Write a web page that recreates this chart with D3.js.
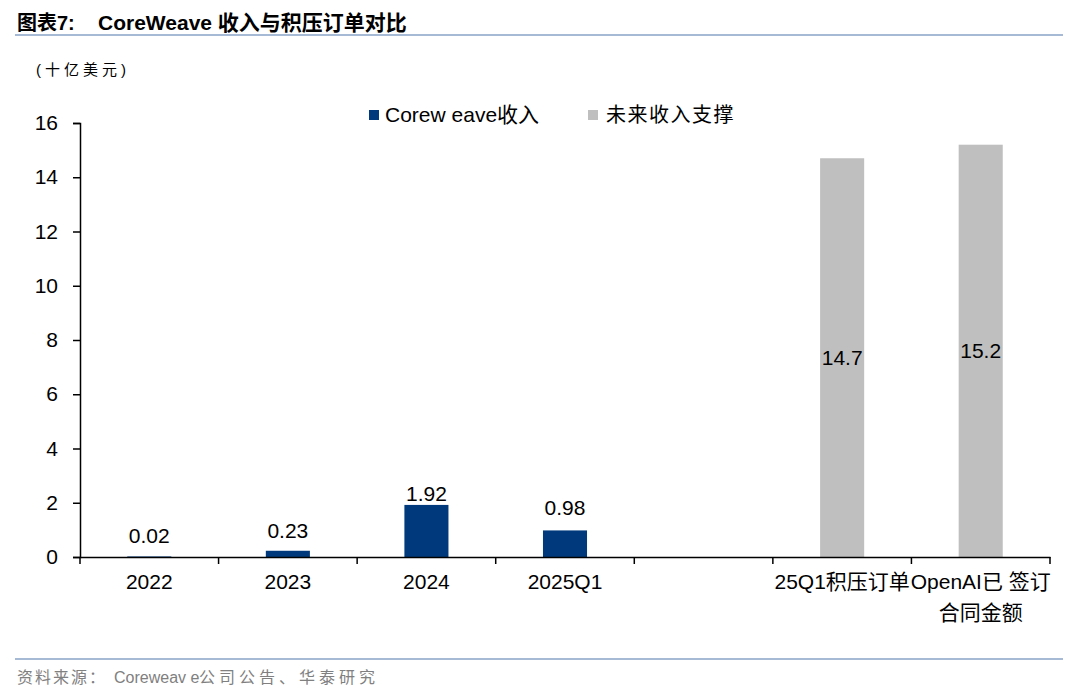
<!DOCTYPE html>
<html>
<head>
<meta charset="utf-8">
<script src="https://cdn.jsdelivr.net/npm/d3@7/dist/d3.min.js"></script>
<style>
  html, body { margin: 0; padding: 0; background: #fff; }
  svg { display: block; }
</style>
</head>
<body>
<svg id="chart" width="1080" height="693"></svg>
<script>
// ---- data ----
const categories = ["2022", "2023", "2024", "2025Q1", " ", "25Q1积压订单", "OpenAI已 签订\n合同金额"];
const revenue = [0.02, 0.23, 1.92, 0.98, null, null, null];
const backlog = [null, null, null, null, null, 14.7, 15.2];
const revenueLabels = ["0.02", "0.23", "1.92", "0.98", null, null, null];
const backlogLabels = [null, null, null, null, null, "14.7", "15.2"];
const yTicks = [0, 2, 4, 6, 8, 10, 12, 14, 16];
const seriesNames = ["Corew eave收入", "未来收入支撑"];
const titleParts = ["图表7:", "CoreWeave 收入与积压订单对比"];
const unitLabel = "(十亿美元)";
const sourceParts = ["资料来源：", "Coreweav e ", "公司公告、华泰研究"];

// ---- styles ----
const BLUE = "#003A7C";
const GREY = "#BFBFBF";
const LATIN = "'Liberation Sans', Arial, sans-serif";
const CJK = "'Liberation Sans', 'Noto Sans CJK SC', sans-serif";
const FS = 21;

const svg = d3.select("#chart");
const pLeft = 80, pRight = 1050, pTop = 123, pBottom = 557;

const x = d3.scaleBand().domain(categories).range([pLeft, pRight]).padding(0);
const y = d3.scaleLinear().domain([0, 16]).range([pBottom, pTop]);
const barW = x.bandwidth() * 0.318;

// title
const tt = svg.append("text").attr("y", 30)
  .attr("font-family", CJK).attr("font-weight", "bold").attr("font-size", 20)
  .attr("fill", "#000");
tt.append("tspan").attr("x", 17).text(titleParts[0]);
tt.append("tspan").attr("x", 98).attr("font-size", 21).text(titleParts[1]);
svg.append("line").attr("x1", 15).attr("x2", 1063).attr("y1", 35).attr("y2", 35)
  .attr("stroke", "#A6BAD6").attr("stroke-width", 2);

// unit
svg.append("text").attr("x", 36).attr("y", 75)
  .attr("font-family", CJK).attr("font-size", 15).attr("letter-spacing", 4)
  .attr("fill", "#000").text(unitLabel);

// bars: revenue
svg.append("g").selectAll("rect").data(categories.map((c, i) => ({c, v: revenue[i]})).filter(d => d.v != null))
  .join("rect")
  .attr("x", d => x(d.c) + (x.bandwidth() - barW) / 2)
  .attr("width", barW)
  .attr("y", d => y(d.v))
  .attr("height", d => y(0) - y(d.v))
  .attr("fill", BLUE);

// bars: backlog
svg.append("g").selectAll("rect").data(categories.map((c, i) => ({c, v: backlog[i]})).filter(d => d.v != null))
  .join("rect")
  .attr("x", d => x(d.c) + (x.bandwidth() - barW) / 2)
  .attr("width", barW)
  .attr("y", d => y(d.v))
  .attr("height", d => y(0) - y(d.v))
  .attr("fill", GREY);

// labels for revenue (above bars)
const revDy = [-13, -13, -4, -15];
svg.append("g").selectAll("text").data(categories.map((c, i) => ({c, v: revenue[i], t: revenueLabels[i], i})).filter(d => d.v != null))
  .join("text")
  .attr("x", d => x(d.c) + x.bandwidth() / 2)
  .attr("y", d => y(d.v) + (revDy[d.i] || -10))
  .attr("text-anchor", "middle")
  .attr("font-family", LATIN).attr("font-size", FS).attr("fill", "#000")
  .text(d => d.t);

// labels for backlog (centered)
svg.append("g").selectAll("text").data(categories.map((c, i) => ({c, v: backlog[i], t: backlogLabels[i]})).filter(d => d.v != null))
  .join("text")
  .attr("x", d => x(d.c) + x.bandwidth() / 2)
  .attr("y", d => (y(d.v) + y(0)) / 2 + 7)
  .attr("text-anchor", "middle")
  .attr("font-family", LATIN).attr("font-size", FS).attr("fill", "#000")
  .text(d => d.t);

// y axis
const yAxis = svg.append("g").attr("transform", `translate(${pLeft},0)`)
  .call(d3.axisLeft(y).tickValues(yTicks).tickSize(7).tickPadding(15).tickFormat(d3.format("d")));
yAxis.select(".domain").attr("stroke", "#000").attr("stroke-width", 1.5);
yAxis.selectAll(".tick line").attr("stroke", "#000").attr("stroke-width", 1.5);
yAxis.selectAll(".tick text").attr("font-family", LATIN).attr("font-size", FS).attr("fill", "#000");

// x axis
const xAxis = svg.append("g").attr("transform", `translate(0,${pBottom})`)
  .call(d3.axisBottom(x).tickSize(0).tickPadding(0).tickFormat(() => ""));
xAxis.select(".domain").attr("stroke", "#000").attr("stroke-width", 1.5);
// boundary ticks
const edges = categories.map(c => x(c)).concat([x(categories[categories.length - 1]) + x.bandwidth()]);
xAxis.selectAll("line.edge").data(edges).join("line").attr("class", "edge")
  .attr("x1", d => d).attr("x2", d => d).attr("y1", 0).attr("y2", 7)
  .attr("stroke", "#000").attr("stroke-width", 1.5);
// category labels
xAxis.selectAll(".tick").each(function(c) {
  const lines = c.split("\n");
  const t = d3.select(this).select("text")
    .attr("font-family", CJK).attr("font-size", FS).attr("fill", "#000")
    .attr("y", 0).attr("dy", null).text(null);
  lines.forEach((ln, k) => {
    t.append("tspan").attr("x", 0).attr("y", 32 + k * 31).text(ln);
  });
});

// legend
const legend = svg.append("g");
legend.append("rect").attr("x", 369).attr("y", 110).attr("width", 10).attr("height", 10).attr("fill", BLUE);
legend.append("text").attr("x", 385).attr("y", 122).attr("font-family", CJK).attr("font-size", 21)
  .attr("fill", "#000").text(seriesNames[0]);
legend.append("rect").attr("x", 588).attr("y", 110).attr("width", 10).attr("height", 10).attr("fill", GREY);
legend.append("text").attr("x", 606).attr("y", 122).attr("font-family", CJK).attr("font-size", 20)
  .attr("letter-spacing", 1.5).attr("fill", "#000").text(seriesNames[1]);

// footer
svg.append("line").attr("x1", 15).attr("x2", 1063).attr("y1", 659).attr("y2", 659)
  .attr("stroke", "#A6BAD6").attr("stroke-width", 2);
const ft = svg.append("text").attr("y", 683)
  .attr("font-family", CJK).attr("font-size", 16)
  .attr("fill", "#808080").attr("xml:space", "preserve").style("white-space", "pre");
ft.append("tspan").attr("x", 17).attr("letter-spacing", 2).text(sourceParts[0]);
ft.append("tspan").attr("x", 114).text(sourceParts[1]);
ft.append("tspan").attr("x", 199).attr("letter-spacing", 4).text(sourceParts[2]);
</script>
</body>
</html>
